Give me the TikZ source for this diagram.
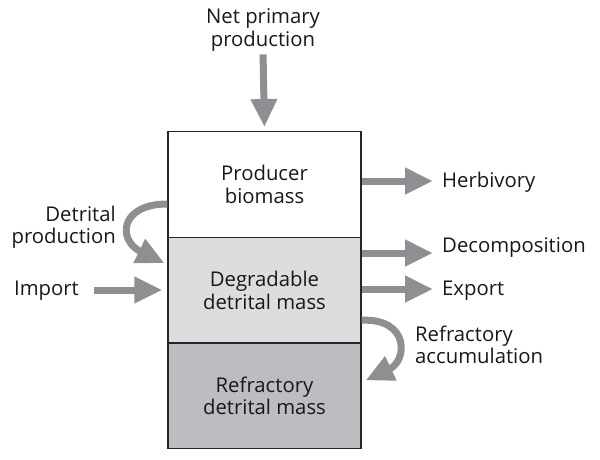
\documentclass[tikz,border=0pt]{standalone}
\usepackage{fontspec}
\setmainfont{Open Sans}
\usetikzlibrary{arrows.meta}
\definecolor{arr}{HTML}{8E8F92}
\definecolor{lgray}{HTML}{DCDDDF}
\definecolor{dgray}{HTML}{BCBDC0}
\definecolor{txt}{HTML}{1A1718}
\begin{document}
\begin{tikzpicture}[x=1pt,y=-1pt,
  lbl/.style={inner sep=0pt, text=txt, font=\fontsize{20.3}{22.5}\selectfont, align=center},
  box/.style={draw=black!85, line width=1.2pt, minimum width=193pt, minimum height=105.7pt,
    inner sep=0pt, align=center, text=txt, font=\fontsize{20.3}{22.5}\selectfont},
  fat/.style={draw=arr, line width=7pt, -{Triangle[length=28pt,width=25pt]}}]
\useasboundingbox (0,0) rectangle (600,459);
% boxes
\node[box, fill=white] (prod) at (264.5,184.5) {Producer\\biomass};
\node[box, fill=lgray] (deg) at (264.5,290.2) {Degradable\\detrital mass};
\node[box, fill=dgray] (ref) at (264.5,395.9) {Refractory\\detrital mass};
% labels
\node[lbl] (net) at (263,30) {Net primary\\production};
\node[lbl, anchor=west] (herb) at (442,182) {Herbivory};
\node[lbl, anchor=west] (decomp) at (442,247) {Decomposition};
\node[lbl, anchor=west] (export) at (442,291) {Export};
\node[lbl, anchor=west] (imp) at (14,291) {Import};
\node[lbl, align=right, anchor=east] (detp) at (116,227) {Detrital\\production};
\node[lbl, align=left, anchor=west] (refa) at (415,345) {Refractory\\accumulation};
% arrows
\draw[fat, shorten <=3pt, shorten >=4pt] (net.south) -- (prod.north);
\draw[fat] (prod.east |- herb.west) ++(0,-1) -- ([xshift=-9pt,yshift=1pt]herb.west);
\draw[fat] (deg.east |- decomp.west) ++(0,6) -- ([xshift=-9pt,yshift=-6pt]decomp.west);
\draw[fat] (deg.east |- export.west) ++(0,-2) -- ([xshift=-9pt,yshift=2pt]export.west);
\draw[fat] ([xshift=15pt,yshift=1pt]imp.east) -- ([xshift=-5pt,yshift=1pt]deg.west |- imp.east);
\draw[fat] ([yshift=-19.5pt]prod.west) .. controls +(-48,0) and +(-47,-23) .. ([xshift=-3pt,yshift=27pt]deg.west);
\draw[fat] ([yshift=-30pt]deg.east) .. controls +(48,-2) and +(42,-20) .. ([xshift=4pt,yshift=15.5pt]ref.east);
\end{tikzpicture}
\end{document}
